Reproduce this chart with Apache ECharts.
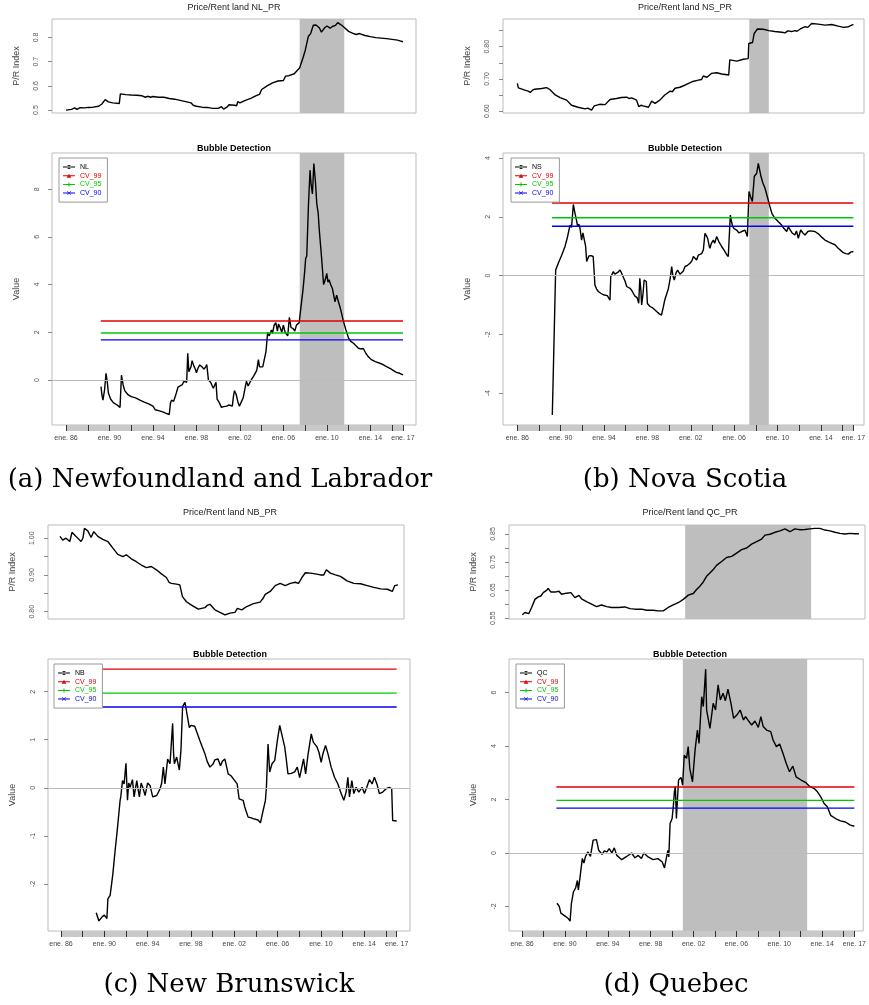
<!DOCTYPE html>
<html>
<head>
<meta charset="utf-8">
<script src="https://cdn.jsdelivr.net/npm/echarts@6/dist/echarts.min.js"></script>
<style>
  html, body { margin: 0; padding: 0; background: #fff; }
  #chart { width: 869px; height: 1005px; }
</style>
</head>
<body>
<div id="chart"></div>
<script>
// ---- data: [decimal year, value] ----
const nlRatio = [[1986.0,0.500],[1986.5,0.503],[1986.8,0.509],[1987.0,0.503],[1987.3,0.510],[1987.7,0.509],[1988.0,0.511],[1988.5,0.512],[1989.0,0.516],[1989.3,0.525],[1989.6,0.543],[1989.9,0.534],[1990.3,0.530],[1990.9,0.527],[1991.0,0.567],[1991.5,0.564],[1992.0,0.562],[1992.5,0.561],[1993.0,0.559],[1993.3,0.553],[1993.5,0.557],[1993.8,0.553],[1994.0,0.556],[1994.5,0.553],[1995.0,0.553],[1995.5,0.548],[1996.0,0.545],[1996.5,0.540],[1997.0,0.535],[1997.5,0.530],[1997.7,0.520],[1998.0,0.516],[1998.5,0.512],[1999.0,0.511],[1999.5,0.507],[2000.0,0.507],[2000.3,0.514],[2000.5,0.504],[2000.8,0.512],[2001.0,0.522],[2001.5,0.520],[2001.7,0.518],[2001.8,0.535],[2002.0,0.530],[2002.5,0.540],[2003.0,0.548],[2003.5,0.560],[2003.8,0.565],[2004.0,0.585],[2004.5,0.600],[2005.0,0.612],[2005.5,0.620],[2006.0,0.622],[2006.2,0.640],[2006.5,0.642],[2007.0,0.650],[2007.5,0.675],[2007.8,0.715],[2008.0,0.745],[2008.3,0.805],[2008.5,0.815],[2008.75,0.850],[2009.0,0.851],[2009.3,0.840],[2009.5,0.822],[2009.8,0.840],[2010.0,0.847],[2010.3,0.838],[2010.5,0.845],[2010.8,0.850],[2011.0,0.861],[2011.3,0.852],[2011.5,0.845],[2012.0,0.825],[2012.5,0.815],[2012.7,0.812],[2013.0,0.816],[2013.5,0.808],[2014.0,0.803],[2014.5,0.799],[2015.0,0.797],[2015.5,0.795],[2016.0,0.792],[2016.5,0.789],[2016.8,0.785],[2017.0,0.782]];

const nlBubble = [[1989.22,-0.28],[1989.3,-0.63],[1989.4,-0.85],[1989.55,-0.4],[1989.68,0.28],[1989.8,-0.1],[1989.9,-0.55],[1990.1,-0.8],[1990.35,-0.95],[1990.7,-1.05],[1990.97,-1.15],[1991.1,0.2],[1991.25,-0.2],[1991.4,-0.45],[1991.7,-0.62],[1992.0,-0.7],[1992.4,-0.75],[1992.8,-0.85],[1993.2,-0.93],[1993.6,-1.0],[1994.0,-1.1],[1994.2,-1.25],[1994.35,-1.2],[1994.6,-1.3],[1994.96,-1.35],[1995.2,-1.4],[1995.5,-1.45],[1995.6,-1.0],[1995.7,-0.85],[1995.9,-0.9],[1996.0,-0.85],[1996.15,-0.55],[1996.3,-0.3],[1996.5,-0.25],[1996.7,-0.2],[1996.85,-0.05],[1996.95,0.0],[1997.1,-0.1],[1997.2,1.12],[1997.3,0.35],[1997.4,0.42],[1997.5,0.55],[1997.6,0.81],[1997.75,0.6],[1997.9,0.45],[1998.0,0.3],[1998.15,0.5],[1998.3,0.63],[1998.5,0.55],[1998.7,0.45],[1998.85,0.55],[1998.95,0.65],[1999.1,0.0],[1999.3,-0.1],[1999.55,-0.35],[1999.7,-0.3],[1999.8,-0.1],[1999.9,-0.8],[2000.1,-0.95],[2000.3,-1.15],[2000.5,-1.12],[2000.8,-1.1],[2001.0,-1.05],[2001.3,-1.1],[2001.4,-0.7],[2001.5,-0.45],[2001.65,-0.6],[2001.8,-0.9],[2001.95,-1.1],[2002.1,-0.95],[2002.3,-0.75],[2002.45,-0.4],[2002.6,-0.05],[2002.75,-0.25],[2002.9,-0.2],[2003.1,0.05],[2003.25,0.15],[2003.4,0.2],[2003.55,0.4],[2003.7,0.85],[2003.8,0.55],[2003.95,0.5],[2004.1,0.55],[2004.25,0.6],[2004.4,1.2],[2004.55,2.0],[2004.7,1.85],[2004.9,2.1],[2005.0,1.95],[2005.15,2.3],[2005.3,2.4],[2005.45,2.05],[2005.55,2.35],[2005.7,2.2],[2005.85,2.0],[2006.0,2.3],[2006.15,2.0],[2006.3,1.95],[2006.4,1.85],[2006.55,2.63],[2006.7,2.2],[2006.9,2.15],[2007.05,2.05],[2007.2,2.3],[2007.3,2.25],[2007.45,2.4],[2007.6,3.0],[2007.8,3.77],[2007.95,4.5],[2008.05,5.1],[2008.15,5.2],[2008.3,7.27],[2008.45,8.8],[2008.55,8.2],[2008.67,7.8],[2008.8,9.08],[2008.95,8.3],[2009.07,7.4],[2009.2,7.0],[2009.3,6.3],[2009.5,5.2],[2009.7,4.0],[2009.85,4.2],[2009.99,4.47],[2010.1,4.1],[2010.2,4.2],[2010.35,4.0],[2010.5,3.85],[2010.65,3.5],[2010.75,3.28],[2010.9,3.56],[2011.05,3.3],[2011.2,3.07],[2011.35,2.8],[2011.5,2.5],[2011.75,2.1],[2012.0,1.75],[2012.2,1.62],[2012.45,1.54],[2012.7,1.42],[2012.9,1.33],[2013.1,1.3],[2013.25,1.38],[2013.35,1.32],[2013.55,1.15],[2013.8,0.98],[2014.1,0.85],[2014.45,0.77],[2014.75,0.72],[2015.05,0.67],[2015.4,0.58],[2015.8,0.49],[2016.1,0.4],[2016.4,0.32],[2016.7,0.28],[2017.0,0.21]];

const nsRatio = [[1986.0,0.686],[1986.1,0.672],[1986.25,0.667],[1986.7,0.665],[1987.0,0.662],[1987.2,0.658],[1987.4,0.665],[1987.6,0.668],[1988.25,0.670],[1988.7,0.673],[1989.0,0.667],[1989.5,0.650],[1989.95,0.642],[1990.55,0.634],[1991.0,0.618],[1991.6,0.612],[1992.25,0.607],[1992.5,0.609],[1992.85,0.603],[1993.1,0.616],[1993.6,0.621],[1994.1,0.620],[1994.55,0.636],[1995.15,0.639],[1995.6,0.642],[1996.1,0.643],[1996.3,0.639],[1996.55,0.641],[1997.0,0.634],[1997.2,0.614],[1997.4,0.618],[1997.6,0.616],[1998.1,0.612],[1998.4,0.631],[1998.7,0.624],[1999.15,0.634],[1999.6,0.650],[2000.1,0.662],[2000.3,0.660],[2000.55,0.671],[2001.0,0.674],[2001.5,0.681],[2002.1,0.691],[2002.7,0.696],[2003.0,0.698],[2003.15,0.709],[2003.5,0.705],[2003.9,0.717],[2004.4,0.719],[2004.85,0.715],[2005.5,0.712],[2005.6,0.759],[2006.25,0.755],[2006.85,0.761],[2007.3,0.763],[2007.35,0.810],[2007.7,0.813],[2007.85,0.841],[2008.15,0.855],[2008.7,0.854],[2009.2,0.850],[2009.75,0.847],[2010.4,0.845],[2010.7,0.843],[2010.95,0.849],[2011.3,0.847],[2011.6,0.850],[2011.8,0.848],[2012.1,0.855],[2012.55,0.862],[2012.8,0.860],[2013.15,0.872],[2013.75,0.870],[2014.4,0.867],[2015.0,0.869],[2015.6,0.864],[2016.1,0.860],[2016.55,0.862],[2017.0,0.869]];

const nsBubble = [[1989.23,-4.74],[1989.5,-0.4],[1989.54,0.19],[1989.65,0.25],[1989.78,0.42],[1989.9,0.4],[1990.1,0.7],[1990.25,0.75],[1990.4,0.99],[1990.5,0.95],[1990.64,1.33],[1990.75,1.3],[1990.86,1.72],[1991.0,1.64],[1991.17,2.42],[1991.32,2.12],[1991.45,1.9],[1991.57,1.67],[1991.68,1.75],[1991.78,1.61],[1991.93,1.21],[1992.05,1.45],[1992.15,1.44],[1992.3,1.0],[1992.4,0.48],[1992.6,0.67],[1992.8,0.68],[1993.0,0.65],[1993.16,-0.32],[1993.3,-0.45],[1993.47,-0.54],[1993.7,-0.6],[1993.93,-0.65],[1994.1,-0.7],[1994.3,-0.68],[1994.4,-0.71],[1994.55,-0.83],[1994.62,-0.03],[1994.75,0.05],[1994.86,0.14],[1995.0,0.05],[1995.16,0.08],[1995.3,0.12],[1995.47,0.19],[1995.6,0.1],[1995.78,0.08],[1995.95,-0.2],[1996.09,-0.37],[1996.25,-0.35],[1996.4,-0.43],[1996.55,-0.5],[1996.7,-0.6],[1996.85,-0.7],[1997.05,-0.75],[1997.2,-0.94],[1997.3,-0.09],[1997.4,-0.5],[1997.47,-1.0],[1997.6,-0.6],[1997.7,-0.15],[1997.8,-0.12],[1997.9,-0.2],[1998.0,-0.95],[1998.24,-1.05],[1998.5,-1.1],[1998.85,-1.22],[1999.1,-1.3],[1999.3,-1.34],[1999.45,-1.1],[1999.6,-0.83],[1999.8,-0.6],[1999.93,-0.45],[2000.1,-0.1],[2000.24,0.31],[2000.35,0.0],[2000.48,-0.15],[2000.65,0.1],[2000.79,0.19],[2001.0,0.05],[2001.16,0.02],[2001.3,0.15],[2001.47,0.31],[2001.7,0.35],[2001.93,0.42],[2002.1,0.5],[2002.24,0.65],[2002.4,0.6],[2002.54,0.53],[2002.7,0.7],[2002.85,0.65],[2003.0,0.75],[2003.16,0.87],[2003.31,1.44],[2003.45,1.35],[2003.56,1.27],[2003.7,1.0],[2003.77,0.93],[2003.9,1.1],[2004.08,1.21],[2004.2,1.1],[2004.39,1.33],[2004.6,1.15],[2004.85,0.99],[2005.1,0.85],[2005.3,0.72],[2005.46,0.65],[2005.65,2.06],[2005.75,1.85],[2005.87,1.67],[2006.0,1.6],[2006.23,1.55],[2006.45,1.45],[2006.7,1.5],[2006.85,1.45],[2007.0,1.55],[2007.22,1.33],[2007.37,2.86],[2007.5,2.7],[2007.68,2.52],[2007.86,3.37],[2008.08,3.48],[2008.23,3.82],[2008.35,3.6],[2008.48,3.37],[2008.65,3.15],[2008.85,2.97],[2009.05,2.7],[2009.3,2.35],[2009.5,2.1],[2009.77,1.95],[2010.1,1.82],[2010.38,1.72],[2010.6,1.6],[2010.85,1.5],[2011.0,1.66],[2011.15,1.61],[2011.35,1.45],[2011.6,1.38],[2011.75,1.52],[2011.92,1.27],[2012.14,1.55],[2012.35,1.45],[2012.54,1.38],[2012.8,1.5],[2013.0,1.52],[2013.15,1.58],[2013.45,1.5],[2013.77,1.42],[2014.1,1.3],[2014.38,1.21],[2014.7,1.15],[2015.0,1.1],[2015.3,1.05],[2015.6,0.93],[2015.85,0.85],[2016.07,0.78],[2016.3,0.75],[2016.53,0.73],[2016.75,0.8],[2017.0,0.82]];

const nbRatio = [[1986.0,1.005],[1986.25,0.995],[1986.55,1.000],[1986.9,0.991],[1987.1,1.016],[1987.47,1.005],[1987.93,0.991],[1988.1,1.000],[1988.24,1.027],[1988.55,1.020],[1988.85,1.002],[1989.1,1.018],[1989.47,1.005],[1989.93,0.997],[1990.39,0.991],[1990.85,0.973],[1991.3,0.956],[1991.77,0.950],[1992.08,0.955],[1992.54,0.944],[1993.0,0.936],[1993.46,0.927],[1993.92,0.920],[1994.38,0.923],[1994.84,0.914],[1995.3,0.903],[1995.76,0.893],[1996.0,0.880],[1996.22,0.877],[1996.68,0.875],[1996.99,0.873],[1997.23,0.841],[1997.6,0.827],[1998.06,0.818],[1998.68,0.807],[1999.29,0.811],[1999.55,0.818],[1999.75,0.820],[2000.21,0.805],[2000.67,0.798],[2001.13,0.791],[2001.59,0.796],[2002.05,0.798],[2002.27,0.809],[2002.67,0.805],[2003.13,0.814],[2003.74,0.822],[2004.35,0.826],[2004.6,0.835],[2004.82,0.847],[2005.28,0.855],[2005.74,0.871],[2006.2,0.877],[2006.66,0.871],[2007.12,0.877],[2007.58,0.880],[2007.88,0.877],[2008.19,0.893],[2008.5,0.906],[2008.96,0.905],[2009.42,0.903],[2009.88,0.900],[2010.19,0.900],[2010.43,0.914],[2010.8,0.905],[2011.26,0.900],[2011.72,0.896],[2012.33,0.884],[2012.95,0.877],[2013.56,0.876],[2014.18,0.871],[2014.79,0.866],[2015.4,0.862],[2016.02,0.861],[2016.48,0.855],[2016.7,0.871],[2017.0,0.873]];

const nbBubble = [[1989.25,-2.6],[1989.5,-2.77],[1989.78,-2.69],[1990.0,-2.65],[1990.08,-2.63],[1990.24,-2.72],[1990.33,-2.31],[1990.54,-2.24],[1990.79,-1.79],[1991.0,-1.3],[1991.16,-0.96],[1991.3,-0.64],[1991.46,-0.26],[1991.52,-0.19],[1991.68,0.15],[1991.83,0.08],[1992.0,0.51],[1992.14,-0.26],[1992.25,0.1],[1992.38,0.01],[1992.6,0.17],[1992.75,-0.19],[1993.0,0.15],[1993.1,0.0],[1993.24,-0.19],[1993.4,0.1],[1993.55,0.01],[1993.77,-0.16],[1994.0,0.1],[1994.22,0.05],[1994.47,-0.19],[1994.84,-0.16],[1995.15,-0.02],[1995.3,0.1],[1995.45,0.43],[1995.6,0.08],[1995.85,0.6],[1996.07,0.5],[1996.31,1.34],[1996.4,0.7],[1996.47,0.5],[1996.68,0.64],[1996.93,0.37],[1997.08,0.79],[1997.23,1.69],[1997.45,1.78],[1997.6,1.82],[1997.85,1.25],[1998.0,1.3],[1998.15,1.3],[1998.35,1.28],[1998.52,1.25],[1998.83,0.98],[1999.05,0.85],[1999.29,0.71],[1999.5,0.55],[1999.75,0.43],[2000.06,0.5],[2000.2,0.58],[2000.36,0.55],[2000.5,0.6],[2000.73,0.46],[2000.9,0.55],[2001.13,0.6],[2001.44,0.29],[2001.7,0.25],[2001.9,0.19],[2002.27,0.08],[2002.45,-0.23],[2002.82,-0.26],[2002.97,-0.4],[2003.28,-0.61],[2003.5,-0.62],[2003.74,-0.64],[2004.2,-0.67],[2004.42,-0.73],[2004.6,-0.54],[2004.75,-0.58],[2004.88,-0.26],[2004.97,0.01],[2005.12,0.91],[2005.27,0.33],[2005.49,0.5],[2005.74,0.57],[2005.98,0.98],[2006.2,1.3],[2006.3,1.2],[2006.44,1.16],[2006.66,0.85],[2006.8,0.6],[2006.96,0.29],[2007.27,0.3],[2007.58,0.33],[2007.82,0.43],[2008.04,0.21],[2008.19,0.22],[2008.4,0.6],[2008.59,0.29],[2008.8,0.67],[2009.11,1.12],[2009.3,0.95],[2009.42,0.98],[2009.64,0.85],[2009.82,0.74],[2010.03,0.53],[2010.19,0.71],[2010.43,0.88],[2010.65,0.71],[2010.95,0.43],[2011.26,0.22],[2011.57,0.08],[2011.87,-0.12],[2012.12,-0.26],[2012.33,-0.09],[2012.49,0.22],[2012.64,-0.19],[2012.86,0.15],[2013.04,-0.12],[2013.26,0.01],[2013.5,-0.09],[2013.81,0.01],[2014.02,-0.12],[2014.24,0.01],[2014.48,0.17],[2014.73,0.08],[2014.94,0.22],[2015.19,0.07],[2015.4,-0.12],[2015.71,-0.09],[2016.02,-0.02],[2016.33,0.01],[2016.54,-0.02],[2016.63,-0.68],[2016.79,-0.69],[2017.0,-0.69]];

const qcRatio = [[1986.0,0.562],[1986.25,0.570],[1986.6,0.566],[1986.86,0.588],[1987.17,0.617],[1987.47,0.626],[1987.72,0.629],[1987.93,0.641],[1988.2,0.648],[1988.39,0.656],[1988.64,0.643],[1989.0,0.643],[1989.38,0.646],[1989.62,0.635],[1990.08,0.639],[1990.48,0.641],[1990.85,0.623],[1991.22,0.631],[1991.46,0.619],[1991.92,0.609],[1992.38,0.600],[1992.84,0.591],[1993.3,0.597],[1993.77,0.591],[1994.23,0.588],[1994.84,0.588],[1995.45,0.590],[1995.91,0.584],[1996.37,0.582],[1996.99,0.582],[1997.45,0.578],[1998.06,0.578],[1998.52,0.576],[1998.98,0.576],[1999.44,0.588],[1999.9,0.597],[2000.36,0.605],[2000.83,0.617],[2001.29,0.632],[2001.75,0.638],[2002.05,0.652],[2002.36,0.664],[2002.67,0.679],[2002.97,0.699],[2003.28,0.711],[2003.59,0.723],[2003.89,0.738],[2004.36,0.752],[2004.81,0.766],[2005.28,0.770],[2005.74,0.782],[2006.2,0.794],[2006.66,0.800],[2007.12,0.814],[2007.58,0.823],[2008.04,0.832],[2008.35,0.846],[2008.81,0.849],[2009.27,0.856],[2009.73,0.861],[2010.19,0.868],[2010.65,0.858],[2011.1,0.868],[2011.57,0.865],[2012.03,0.866],[2012.49,0.868],[2012.95,0.870],[2013.41,0.870],[2013.87,0.864],[2014.33,0.861],[2014.79,0.856],[2015.25,0.852],[2015.71,0.850],[2016.17,0.852],[2016.63,0.851],[2017.0,0.851]];

const qcBubble = [[1989.25,-1.88],[1989.47,-2.0],[1989.62,-2.25],[1990.08,-2.38],[1990.3,-2.45],[1990.48,-2.55],[1990.6,-1.9],[1990.79,-1.46],[1991.0,-1.3],[1991.16,-1.03],[1991.25,-1.38],[1991.4,-0.93],[1991.53,-0.96],[1991.62,-0.21],[1991.77,-0.38],[1991.92,-0.13],[1992.14,0.04],[1992.38,-0.13],[1992.63,0.48],[1992.94,0.5],[1993.15,0.1],[1993.46,-0.05],[1993.67,0.08],[1993.92,0.04],[1994.13,0.16],[1994.38,0.0],[1994.6,0.19],[1994.84,-0.09],[1995.3,-0.25],[1995.76,-0.13],[1996.22,0.0],[1996.53,-0.18],[1996.84,-0.09],[1997.14,-0.21],[1997.36,0.0],[1997.76,-0.15],[1998.22,-0.25],[1998.68,-0.21],[1999.08,-0.34],[1999.29,-0.56],[1999.44,-0.53],[1999.6,0.1],[1999.69,-0.15],[1999.81,1.1],[2000.0,1.29],[2000.12,1.79],[2000.21,2.29],[2000.3,2.48],[2000.4,1.29],[2000.6,2.73],[2000.83,2.83],[2000.98,2.54],[2001.13,3.66],[2001.35,3.54],[2001.5,3.98],[2001.65,3.16],[2001.9,2.66],[2002.14,3.85],[2002.36,4.6],[2002.51,4.1],[2002.76,5.85],[2002.91,5.48],[2003.13,6.88],[2003.22,5.35],[2003.53,4.66],[2003.83,5.6],[2004.05,5.35],[2004.29,6.29],[2004.5,5.73],[2004.75,5.98],[2004.97,5.7],[2005.21,6.13],[2005.49,5.6],[2005.74,5.04],[2006.04,5.16],[2006.35,5.35],[2006.66,4.98],[2006.85,5.1],[2007.06,4.98],[2007.42,4.79],[2007.73,4.94],[2008.04,4.7],[2008.28,5.1],[2008.5,4.73],[2008.81,4.6],[2009.2,4.54],[2009.42,4.23],[2009.73,3.98],[2010.03,4.08],[2010.34,3.73],[2010.65,3.35],[2010.95,3.04],[2011.26,3.25],[2011.57,2.85],[2012.03,2.73],[2012.49,2.63],[2012.8,2.5],[2013.26,2.41],[2013.56,2.29],[2013.87,2.1],[2014.18,1.85],[2014.48,1.73],[2014.79,1.41],[2015.25,1.29],[2015.71,1.2],[2016.17,1.16],[2016.63,1.04],[2017.0,1.0]];

// shaded bubble periods (years)
const nlShade = [2007.5, 2011.6];
const nsShade = [2007.4, 2009.2];
const nbShade = null;
const qcShade = [2001.0, 2012.6];

// critical values
const cvNames = ['CV_99', 'CV_95', 'CV_90'];
const cvValues = [2.47, 1.97, 1.68];
const cvColors = ['#e00000', '#00c800', '#0000f0'];
const cvSpan = [1989.2, 2017.0];

// tick marks and labels
const yearTicks = [1986,1988,1990,1992,1994,1996,1998,2000,2002,2004,2006,2008,2010,2012,2014,2016,2017];
const yearLabels = [1986,1990,1994,1998,2002,2006,2010,2014,2017];
const nlRatioTicks = [0.5,0.6,0.7,0.8], nlRatioLabels = [0.5,0.6,0.7,0.8];
const nsRatioTicks = [0.60,0.65,0.70,0.75,0.80,0.85], nsRatioLabels = [0.60,0.70,0.80];
const nbRatioTicks = [0.80,0.85,0.90,0.95,1.00], nbRatioLabels = [0.80,0.90,1.00];
const qcRatioTicks = [0.55,0.60,0.65,0.70,0.75,0.80,0.85], qcRatioLabels = [0.55,0.65,0.75,0.85];
const nlBubbleTicks = [0,2,4,6,8];
const nsBubbleTicks = [-4,-2,0,2,4];
const nbBubbleTicks = [-2,-1,0,1,2];
const qcBubbleTicks = [-2,0,2,4,6];

const monthFirst = 1986, monthLast = 2017;

// ---- layout ----
const FONT = '"Liberation Sans", Arial, Helvetica, sans-serif';
const SHADE = '#bebebe';
const BOX = '#bdbdbd';

const panels = [
  { code: 'NL', ratio: nlRatio, bubble: nlBubble, shade: nlShade,
    rTicks: nlRatioTicks, rLabels: nlRatioLabels, dec: 1, bTicks: nlBubbleTicks,
    topBox: { left: 52, top: 19, width: 364, height: 94 },
    botBox: { left: 52, top: 153, width: 364, height: 272 },
    topX: [1984.71, 2018.2], botX: [1984.71, 2018.2],
    topY: [0.488, 0.876], botY: [-1.89, 9.52],
    titleX: 234, topTitleY: 8, botTitleY: 149, legend: [59, 158],
    caption: '(a) Newfoundland and Labrador', capX: 220, capY: 480 },
  { code: 'NS', ratio: nsRatio, bubble: nsBubble, shade: nsShade,
    rTicks: nsRatioTicks, rLabels: nsRatioLabels, dec: 2, bTicks: nsBubbleTicks,
    topBox: { left: 503, top: 19, width: 361, height: 94 },
    botBox: { left: 503, top: 153, width: 361, height: 272 },
    topX: [1984.68, 2017.98], botX: [1984.68, 2017.98],
    topY: [0.594, 0.886], botY: [-5.08, 4.17],
    titleX: 685, topTitleY: 8, botTitleY: 149, legend: [511, 158],
    caption: '(b) Nova Scotia', capX: 685, capY: 480 },
  { code: 'NB', ratio: nbRatio, bubble: nbBubble, shade: nbShade,
    rTicks: nbRatioTicks, rLabels: nbRatioLabels, dec: 2, bTicks: nbBubbleTicks,
    topBox: { left: 48, top: 525, width: 356, height: 94 },
    botBox: { left: 48, top: 659, width: 362, height: 272 },
    topX: [1984.9, 2017.55], botX: [1984.8, 2018.23],
    topY: [0.780, 1.036], botY: [-2.98, 2.68],
    titleX: 230, topTitleY: 513, botTitleY: 655, legend: [54, 664],
    caption: '(c) New Brunswick', capX: 229, capY: 985 },
  { code: 'QC', ratio: qcRatio, bubble: qcBubble, shade: qcShade,
    rTicks: qcRatioTicks, rLabels: qcRatioLabels, dec: 2, bTicks: qcBubbleTicks,
    topBox: { left: 509, top: 525, width: 356, height: 94 },
    botBox: { left: 509, top: 659, width: 359, height: 272 },
    topX: [1984.78, 2017.56], botX: [1984.78, 2017.83],
    topY: [0.547, 0.882], botY: [-2.92, 7.26],
    titleX: 690, topTitleY: 513, botTitleY: 655, legend: [516, 664],
    caption: '(d) Quebec', capX: 676, capY: 985 }
];

// legend icons: a line with the point marker in the middle (24 x 8 units)
const ICONS = [
  'path://M0,5H24V7H0Z M8,6A4,4 0 1,0 16,6A4,4 0 1,0 8,6Z',
  'path://M0,5H24V7H0Z M12,2L16.5,10H7.5Z',
  'path://M0,5H24V7H0Z M11,2H13V10H11Z',
  'path://M0,5H24V7H0Z M8,2.7L8.7,2L16,9.3L15.3,10Z M15.3,2L16,2.7L8.7,10L8,9.3Z'
];

const months = [];
for (let m = 0; m <= (monthLast - monthFirst) * 12; m++) months.push(monthFirst + m / 12);

const fmtYear = v => 'ene. ' + String(Math.round(v) % 100).padStart(2, '0');

const grids = [], xAxes = [], yAxes = [], series = [], legends = [], graphics = [];

const shadeArea = shade => shade ? {
  silent: true,
  itemStyle: { color: SHADE },
  data: [[{ xAxis: shade[0] }, { xAxis: shade[1] }]]
} : undefined;

const yAxisBase = (gridIndex, range, name) => ({
  type: 'value', gridIndex, min: range[0], max: range[1],
  name, nameLocation: 'middle', nameGap: 31,
  nameTextStyle: { fontSize: 9, color: '#444', fontFamily: FONT },
  axisLine: { show: false, onZero: false }, splitLine: { show: false }
});

panels.forEach(p => {
  const gTop = grids.length;
  grids.push({ ...p.topBox, show: true, borderColor: BOX, borderWidth: 1, backgroundColor: 'transparent' });
  const gBot = grids.length;
  grids.push({ ...p.botBox, show: true, borderColor: BOX, borderWidth: 1, backgroundColor: 'transparent' });

  const xTop = xAxes.length;
  xAxes.push({ type: 'value', gridIndex: gTop, min: p.topX[0], max: p.topX[1], show: false });
  const xBot = xAxes.length;
  xAxes.push({
    type: 'value', gridIndex: gBot, min: p.botX[0], max: p.botX[1], position: 'bottom', z: 3,
    axisLine: { show: false, onZero: false }, splitLine: { show: false },
    axisTick: { show: true, length: 6, customValues: yearTicks, lineStyle: { color: '#333', width: 1 } },
    axisLabel: { customValues: yearLabels, formatter: fmtYear, fontSize: 7, color: '#444',
                 fontFamily: FONT, margin: 10, hideOverlap: false }
  });
  xAxes.push({
    type: 'value', gridIndex: gBot, min: p.botX[0], max: p.botX[1], position: 'bottom', z: 2,
    axisLine: { show: false, onZero: false }, splitLine: { show: false }, axisLabel: { show: false },
    axisTick: { show: true, length: 6, customValues: months, lineStyle: { color: '#c9c9c9', width: 1 } }
  });

  yAxes.push({
    ...yAxisBase(gTop, p.topY, 'P/R Index'),
    axisTick: { show: true, length: 4, customValues: p.rTicks, lineStyle: { color: '#888' } },
    axisLabel: { customValues: p.rLabels, rotate: 90, fontSize: 7, color: '#555', fontFamily: FONT,
                 margin: 12, formatter: v => v.toFixed(p.dec) }
  });
  yAxes.push({
    ...yAxisBase(gBot, p.botY, 'Value'),
    axisTick: { show: true, length: 4, customValues: p.bTicks, lineStyle: { color: '#888' } },
    axisLabel: { customValues: p.bTicks, rotate: 90, fontSize: 7, color: '#555', fontFamily: FONT,
                 margin: 11, formatter: v => String(v) }
  });

  series.push({
    type: 'line', xAxisIndex: xTop, yAxisIndex: gTop, data: p.ratio,
    symbol: 'none', silent: true,
    lineStyle: { color: '#000', width: 1.4 }, itemStyle: { color: '#000' },
    markArea: shadeArea(p.shade)
  });
  series.push({
    name: p.code, type: 'line', xAxisIndex: xBot, yAxisIndex: gBot, data: p.bubble,
    symbol: 'none', silent: true,
    lineStyle: { color: '#000', width: 1.4 }, itemStyle: { color: '#000' },
    markArea: shadeArea(p.shade),
    markLine: {
      silent: true, symbol: 'none', label: { show: false },
      lineStyle: { color: '#bbb', type: 'solid', width: 1 },
      data: [{ yAxis: 0 }]
    }
  });
  cvNames.forEach((name, i) => {
    series.push({
      name, type: 'line', xAxisIndex: xBot, yAxisIndex: gBot,
      data: [[cvSpan[0], cvValues[i]], [cvSpan[1], cvValues[i]]],
      symbol: 'none', silent: true,
      lineStyle: { color: cvColors[i], width: 1.4 }, itemStyle: { color: cvColors[i] }
    });
  });

  legends.push({
    orient: 'vertical', left: p.legend[0], top: p.legend[1],
    padding: [5.5, 6, 5.5, 4], itemWidth: 12, itemHeight: 4, itemGap: 1.7, itemTextGap: 5,
    borderColor: '#999', borderWidth: 1, borderRadius: 0, backgroundColor: '#fff',
    selectedMode: false, itemStyle: { borderWidth: 0 },
    textStyle: { fontSize: 7, lineHeight: 7, fontFamily: FONT },
    data: [p.code].concat(cvNames).map((name, i) => ({
      name, icon: ICONS[i],
      textStyle: { color: i === 0 ? '#000' : cvColors[i - 1] }
    }))
  });

  graphics.push({
    type: 'text', x: p.titleX, y: p.topTitleY, silent: true,
    style: { text: 'Price/Rent land ' + p.code + '_PR', font: '9px ' + FONT, fill: '#222',
             textAlign: 'center', textVerticalAlign: 'middle' }
  });
  graphics.push({
    type: 'text', x: p.titleX, y: p.botTitleY, silent: true,
    style: { text: 'Bubble Detection', font: 'bold 9px ' + FONT, fill: '#000',
             textAlign: 'center', textVerticalAlign: 'middle' }
  });
  graphics.push({
    type: 'text', x: p.capX, y: p.capY, silent: true,
    style: { text: p.caption, font: '26px "DejaVu Serif", serif', fill: '#000',
             textAlign: 'center', textVerticalAlign: 'middle' }
  });
});

const chart = echarts.init(document.getElementById('chart'));
chart.setOption({
  animation: false,
  backgroundColor: '#fff',
  grid: grids,
  xAxis: xAxes,
  yAxis: yAxes,
  legend: legends,
  series,
  graphic: graphics
});

window.addEventListener('resize', () => chart.resize());
</script>
</body>
</html>
